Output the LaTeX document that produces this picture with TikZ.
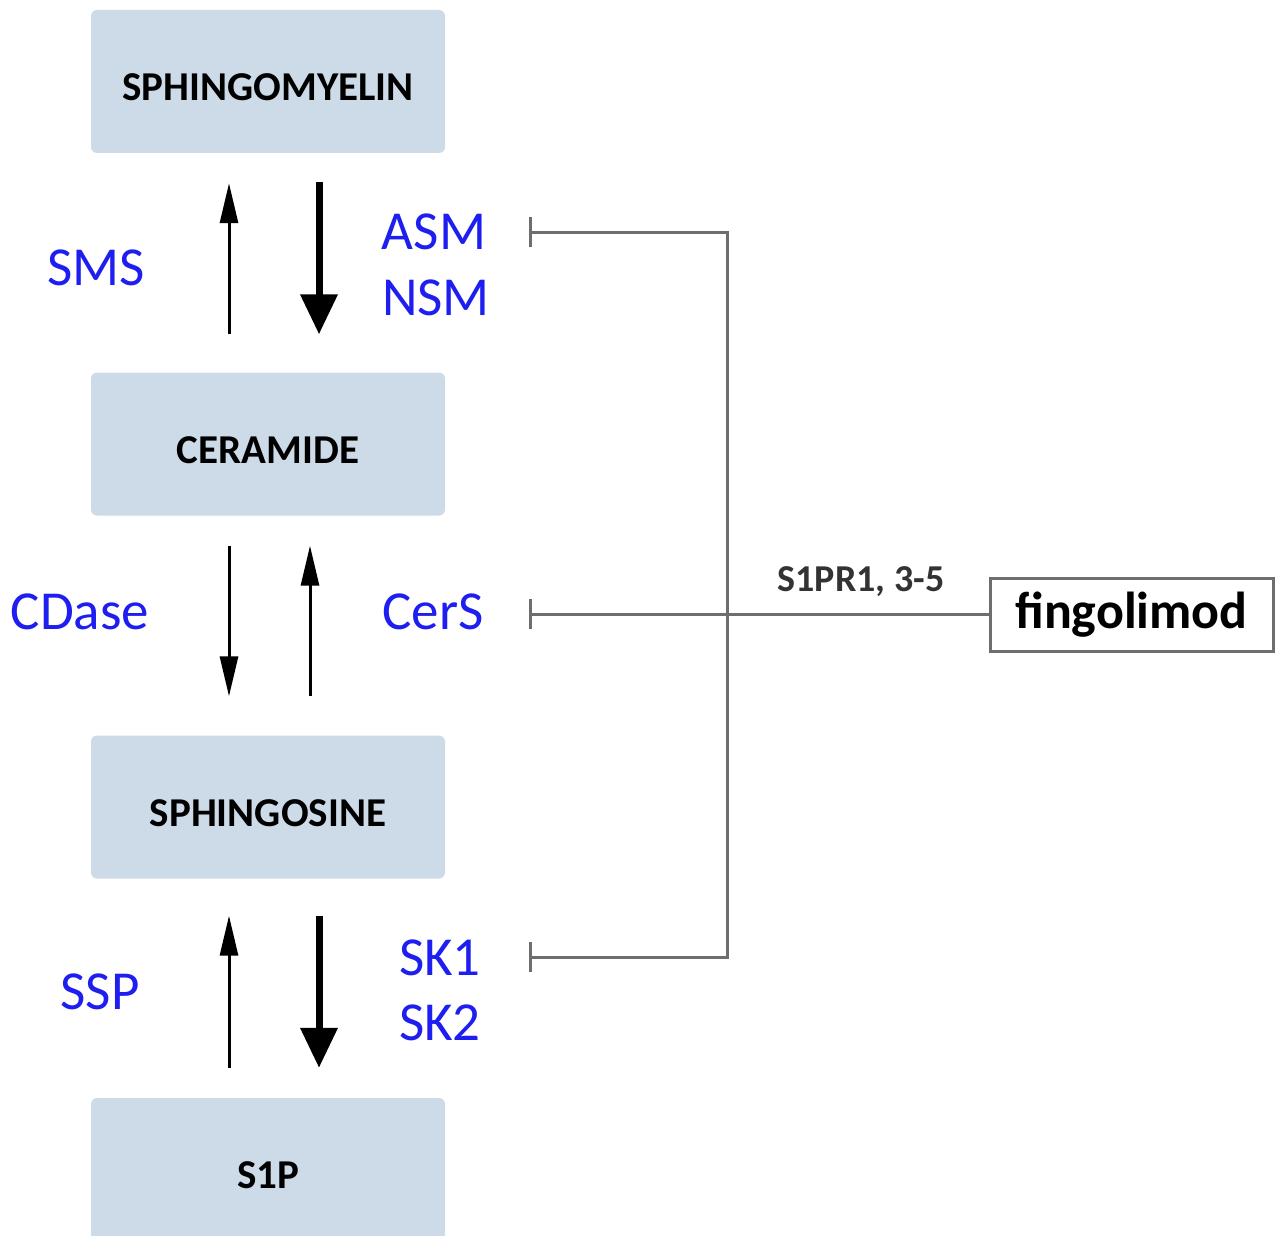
\documentclass[tikz,border=0pt]{standalone}
\usepackage{fontspec}
\setmainfont{Carlito}
\usetikzlibrary{arrows.meta}
\definecolor{boxfill}{RGB}{205,219,232}
\definecolor{enz}{RGB}{30,30,240}
\definecolor{inhgray}{RGB}{110,110,110}
\tikzset{
  pool/.style={rectangle, rounded corners=6pt, fill=boxfill, minimum width=354pt, minimum height=143pt, inner sep=0pt, text height=38pt, text depth=0pt, font=\fontsize{41}{44}\selectfont\bfseries},
  enzyme/.style={text=enz, inner sep=0pt, font=\fontsize{55}{60}\selectfont},
  thinarrow/.style={line width=3pt, -{Triangle[length=40pt,width=18pt]}},
  thickarrow/.style={line width=7pt, -{Triangle[length=40pt,width=36pt]}},
  inhib/.style={draw=inhgray, line width=3pt},
}
\begin{document}
\begin{tikzpicture}[x=1pt,y=-1pt]
\useasboundingbox (0,0) rectangle (1280,1236);
\clip (0,0) rectangle (1280,1236);
\fill[white] (0,0) rectangle (1280,1236);
% pools
\node[pool] (sm)  at (268,81.5)  {SPHINGOMYELIN};
\node[pool] (cer) at (268,444)   {CERAMIDE};
\node[pool] (sph) at (268,807)   {SPHINGOSINE};
\node[pool] (s1p) at (268,1169.5){S1P};
% arrow x positions
\coordinate (xl) at (229,0);
\coordinate (xr) at (319,0);
\coordinate (xm) at (310,0);
% SM <-> CER
\draw[thinarrow, shorten <=38pt, shorten >=30pt] (cer.north -| xl) -- (sm.south -| xl);
\draw[thickarrow, shorten <=29pt, shorten >=38pt] (sm.south -| xr) -- (cer.north -| xr);
% CER <-> SPH
\draw[thinarrow, shorten <=30pt, shorten >=39pt] (cer.south -| xl) -- (sph.north -| xl);
\draw[thinarrow, shorten <=39pt, shorten >=30pt] (sph.north -| xm) -- (cer.south -| xm);
% SPH <-> S1P
\draw[thinarrow, shorten <=30pt, shorten >=37pt] (s1p.north -| xl) -- (sph.south -| xl);
\draw[thickarrow, shorten <=37pt, shorten >=30pt] (sph.south -| xr) -- (s1p.north -| xr);
% enzyme labels
\node[enzyme] (sms)   at (96,268)  {SMS};
\node[enzyme] (asm)   at (434,232) {ASM};
\node[enzyme] (nsm)   at (436,298) {NSM};
\node[enzyme] (cdase) at (80,612)  {CDase};
\node[enzyme] (cers)  at (433,612) {CerS};
\node[enzyme] (ssp)   at (100,992) {SSP};
\node[enzyme] (sk1)   at (440,958) {SK1};
\node[enzyme] (sk2)   at (440,1023){SK2};
% fingolimod
\node[draw=inhgray, line width=3pt, minimum width=283pt, minimum height=73pt, inner sep=0pt, font=\fontsize{52}{56}\selectfont\bfseries] (fing) at (1131.5,614.5) {fingolimod};
\node[text=black!80, inner sep=0pt, font=\fontsize{38}{42}\selectfont\bfseries] (rec) at (861,582) {S1PR1, 3-5};
% inhibition lines
\coordinate (asmT) at (529,232);
\coordinate (cerT) at (529,614);
\coordinate (skT)  at (529,957);
\coordinate (ja)   at (727,232);
\coordinate (jk)   at (727,957);
\draw[inhib, {Bar[width=30pt]}-{Bar[width=30pt]}] (asmT) -- (ja) -- (jk) -- (skT);
\draw[inhib, -{Bar[width=30pt]}] (fing.west |- cerT) -- (cerT);
\end{tikzpicture}
\end{document}
